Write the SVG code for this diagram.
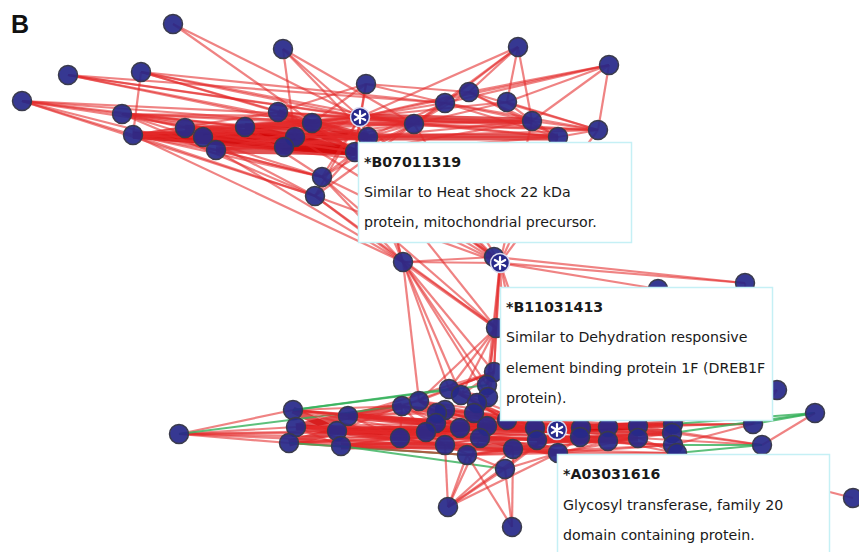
<svg xmlns="http://www.w3.org/2000/svg" width="859" height="552" viewBox="0 0 859 552">
<style>
.ed line{stroke:#e42a2a;stroke-opacity:.58;stroke-width:2.2}
.ed line.g{stroke:#35b05a;stroke-opacity:.8;stroke-width:2}
.ed line.w{stroke-width:3}
.ed line.d{stroke:#d40a0a;stroke-opacity:.7;stroke-width:7}
.n{fill:#27298a;fill-opacity:.93;stroke:#3a3b4c;stroke-width:1.5}
.s{fill:#27298a;stroke:#dcdcf0;stroke-width:1.5}
.a{stroke:#fff;stroke-width:2.2;stroke-linecap:round}
.box{fill:#fff;stroke:#c5f0f5;stroke-width:1.5}
.t{font-family:"DejaVu Sans",Verdana,sans-serif;font-size:14.2px;fill:#1a1a1a}
.h{font-weight:bold}
</style>
<rect width="859" height="552" fill="#fff"/>
<g id="connectors" class="ed">
<line class="d" x1="133" y1="135" x2="355" y2="152"/><line class="d" x1="133" y1="135" x2="368" y2="137"/><line class="d" x1="133" y1="135" x2="284" y2="147"/><line class="d" x1="133" y1="135" x2="295" y2="137"/><line class="d" x1="203" y1="137" x2="295" y2="137"/><line class="d" x1="203" y1="137" x2="355" y2="152"/><line class="d" x1="216" y1="150" x2="355" y2="152"/><line class="d" x1="185" y1="128" x2="295" y2="137"/><line class="d" x1="245" y1="127" x2="355" y2="152"/><line class="d" x1="245" y1="127" x2="368" y2="137"/><line class="d" x1="295" y1="137" x2="355" y2="152"/><line class="d" x1="284" y1="147" x2="355" y2="152"/><line class="d" x1="278" y1="112" x2="355" y2="152"/><line class="d" x1="312" y1="123" x2="368" y2="137"/><line class="d" x1="245" y1="127" x2="312" y2="123"/><line class="d" x1="360" y1="117" x2="532" y2="121"/><line class="d" x1="368" y1="137" x2="558" y2="137"/>
<line class="d" x1="296" y1="427" x2="337" y2="431"/><line class="d" x1="293" y1="410" x2="337" y2="431"/><line class="d" x1="289" y1="443" x2="337" y2="431"/><line class="d" x1="296" y1="427" x2="348" y2="416"/><line class="d" x1="337" y1="431" x2="426" y2="432"/><line class="d" x1="337" y1="431" x2="400" y2="438"/><line class="d" x1="348" y1="416" x2="402" y2="406"/><line class="d" x1="348" y1="416" x2="436" y2="423"/><line class="d" x1="337" y1="431" x2="460" y2="428"/><line class="d" x1="341" y1="446" x2="445" y2="445"/><line class="d" x1="400" y1="438" x2="460" y2="428"/><line class="d" x1="426" y1="432" x2="487" y2="426"/><line class="d" x1="460" y1="428" x2="557" y2="430"/><line class="d" x1="487" y1="426" x2="557" y2="430"/><line class="d" x1="480" y1="438" x2="558" y2="453"/><line class="d" x1="535" y1="428" x2="608" y2="427"/><line class="d" x1="557" y1="430" x2="638" y2="426"/><line class="d" x1="557" y1="430" x2="672" y2="433"/><line class="d" x1="537" y1="440" x2="638" y2="438"/><line class="d" x1="581" y1="428" x2="673" y2="424"/><line class="d" x1="445" y1="445" x2="513" y2="449"/>
<line x1="173" y1="24" x2="360" y2="117"/><line x1="173" y1="24" x2="355" y2="152"/>
<line x1="283" y1="49" x2="360" y2="117"/><line x1="283" y1="49" x2="368" y2="137"/><line x1="283" y1="49" x2="295" y2="137"/><line x1="283" y1="49" x2="414" y2="124"/>
<line x1="68" y1="75" x2="360" y2="117"/><line x1="68" y1="75" x2="414" y2="124"/><line x1="68" y1="75" x2="312" y2="123"/><line x1="68" y1="75" x2="368" y2="137"/><line x1="68" y1="75" x2="445" y2="103"/>
<line x1="141" y1="72" x2="133" y2="135"/><line x1="141" y1="72" x2="360" y2="117"/><line x1="141" y1="72" x2="414" y2="124"/><line x1="141" y1="72" x2="368" y2="137"/><line x1="141" y1="72" x2="445" y2="103"/><line x1="141" y1="72" x2="278" y2="112"/>
<line x1="22" y1="101" x2="122" y2="114"/><line x1="22" y1="101" x2="133" y2="135"/><line x1="22" y1="101" x2="245" y2="127"/><line x1="22" y1="101" x2="360" y2="117"/><line x1="22" y1="101" x2="322" y2="177"/><line x1="22" y1="101" x2="315" y2="196"/><line x1="22" y1="101" x2="312" y2="123"/><line x1="22" y1="101" x2="355" y2="152"/>
<line x1="366" y1="84" x2="360" y2="117"/><line x1="366" y1="84" x2="355" y2="152"/><line x1="366" y1="84" x2="445" y2="103"/><line x1="366" y1="84" x2="469" y2="92"/><line x1="366" y1="84" x2="312" y2="123"/><line x1="366" y1="84" x2="278" y2="112"/>
<line x1="518" y1="47" x2="360" y2="117"/><line x1="518" y1="47" x2="445" y2="103"/><line x1="518" y1="47" x2="469" y2="92"/><line x1="518" y1="47" x2="507" y2="102"/><line x1="518" y1="47" x2="414" y2="124"/><line x1="518" y1="47" x2="532" y2="121"/>
<line x1="609" y1="65" x2="469" y2="92"/><line x1="609" y1="65" x2="445" y2="103"/><line x1="609" y1="65" x2="507" y2="102"/><line x1="609" y1="65" x2="532" y2="121"/><line x1="609" y1="65" x2="598" y2="130"/><line x1="609" y1="65" x2="360" y2="117"/>
<line x1="469" y1="92" x2="360" y2="117"/><line x1="469" y1="92" x2="414" y2="124"/><line x1="469" y1="92" x2="532" y2="121"/><line x1="469" y1="92" x2="558" y2="137"/><line x1="469" y1="92" x2="598" y2="130"/>
<line x1="445" y1="103" x2="360" y2="117"/><line x1="445" y1="103" x2="368" y2="137"/><line x1="445" y1="103" x2="414" y2="124"/><line x1="445" y1="103" x2="598" y2="130"/><line x1="445" y1="103" x2="532" y2="121"/><line x1="445" y1="103" x2="558" y2="137"/>
<line x1="507" y1="102" x2="360" y2="117"/><line x1="507" y1="102" x2="414" y2="124"/><line x1="507" y1="102" x2="532" y2="121"/><line x1="507" y1="102" x2="598" y2="130"/>
<line x1="532" y1="121" x2="360" y2="117"/><line x1="532" y1="121" x2="368" y2="137"/><line x1="532" y1="121" x2="414" y2="124"/><line x1="532" y1="121" x2="598" y2="130"/><line x1="532" y1="121" x2="558" y2="137"/><line x1="532" y1="121" x2="312" y2="123"/><line x1="532" y1="121" x2="355" y2="152"/>
<line x1="598" y1="130" x2="360" y2="117"/><line x1="598" y1="130" x2="414" y2="124"/><line x1="598" y1="130" x2="558" y2="137"/><line x1="598" y1="130" x2="368" y2="137"/><line x1="598" y1="130" x2="312" y2="123"/>
<line x1="558" y1="137" x2="360" y2="117"/><line x1="558" y1="137" x2="414" y2="124"/><line x1="558" y1="137" x2="355" y2="152"/><line x1="558" y1="137" x2="295" y2="137"/>
<line x1="322" y1="177" x2="133" y2="135"/><line x1="322" y1="177" x2="122" y2="114"/><line x1="322" y1="177" x2="360" y2="117"/><line x1="322" y1="177" x2="414" y2="124"/><line x1="322" y1="177" x2="355" y2="152"/><line x1="322" y1="177" x2="216" y2="150"/><line x1="322" y1="177" x2="245" y2="127"/>
<line x1="315" y1="196" x2="122" y2="114"/><line x1="315" y1="196" x2="133" y2="135"/><line x1="315" y1="196" x2="360" y2="117"/><line x1="315" y1="196" x2="368" y2="137"/><line x1="315" y1="196" x2="185" y2="128"/><line x1="315" y1="196" x2="414" y2="124"/>
<line x1="122" y1="114" x2="185" y2="128"/><line x1="122" y1="114" x2="245" y2="127"/><line x1="122" y1="114" x2="295" y2="137"/><line x1="122" y1="114" x2="312" y2="123"/><line x1="122" y1="114" x2="360" y2="117"/><line x1="122" y1="114" x2="368" y2="137"/><line x1="122" y1="114" x2="355" y2="152"/><line x1="122" y1="114" x2="414" y2="124"/><line x1="122" y1="114" x2="284" y2="147"/>
<line class="w" x1="133" y1="135" x2="185" y2="128"/><line class="w" x1="133" y1="135" x2="203" y2="137"/><line class="w" x1="133" y1="135" x2="216" y2="150"/><line x1="133" y1="135" x2="245" y2="127"/><line x1="133" y1="135" x2="278" y2="112"/><line x1="133" y1="135" x2="312" y2="123"/><line x1="133" y1="135" x2="360" y2="117"/><line x1="133" y1="135" x2="414" y2="124"/><line x1="133" y1="135" x2="370" y2="160"/><line x1="133" y1="135" x2="365" y2="145"/>
<line x1="185" y1="128" x2="245" y2="127"/><line x1="185" y1="128" x2="284" y2="147"/><line x1="185" y1="128" x2="360" y2="117"/><line x1="185" y1="128" x2="368" y2="137"/><line x1="185" y1="128" x2="355" y2="152"/><line x1="185" y1="128" x2="312" y2="123"/>
<line x1="203" y1="137" x2="245" y2="127"/><line x1="203" y1="137" x2="284" y2="147"/><line x1="203" y1="137" x2="360" y2="117"/><line x1="203" y1="137" x2="368" y2="137"/><line x1="203" y1="137" x2="312" y2="123"/>
<line x1="216" y1="150" x2="295" y2="137"/><line x1="216" y1="150" x2="284" y2="147"/><line x1="216" y1="150" x2="360" y2="117"/><line x1="216" y1="150" x2="368" y2="137"/>
<line x1="245" y1="127" x2="295" y2="137"/><line x1="245" y1="127" x2="284" y2="147"/><line x1="245" y1="127" x2="360" y2="117"/><line x1="245" y1="127" x2="414" y2="124"/>
<line x1="278" y1="112" x2="312" y2="123"/><line x1="278" y1="112" x2="360" y2="117"/><line x1="278" y1="112" x2="368" y2="137"/><line x1="278" y1="112" x2="414" y2="124"/>
<line x1="295" y1="137" x2="360" y2="117"/><line x1="295" y1="137" x2="368" y2="137"/><line x1="295" y1="137" x2="414" y2="124"/>
<line x1="284" y1="147" x2="360" y2="117"/><line x1="284" y1="147" x2="368" y2="137"/><line x1="284" y1="147" x2="414" y2="124"/>
<line x1="312" y1="123" x2="360" y2="117"/><line x1="312" y1="123" x2="355" y2="152"/><line x1="312" y1="123" x2="414" y2="124"/>
<line x1="360" y1="117" x2="368" y2="137"/><line x1="360" y1="117" x2="355" y2="152"/><line x1="360" y1="117" x2="414" y2="124"/><line x1="368" y1="137" x2="414" y2="124"/><line x1="355" y1="152" x2="414" y2="124"/>
<line x1="403" y1="262" x2="360" y2="117"/><line x1="403" y1="262" x2="368" y2="137"/><line x1="403" y1="262" x2="355" y2="152"/><line x1="403" y1="262" x2="322" y2="177"/><line x1="403" y1="262" x2="315" y2="196"/><line x1="403" y1="262" x2="133" y2="135"/><line x1="403" y1="262" x2="216" y2="150"/>
<line x1="403" y1="262" x2="500" y2="263"/><line x1="403" y1="262" x2="494" y2="257"/><line class="w" x1="403" y1="262" x2="496" y2="328"/><line x1="403" y1="262" x2="494" y2="372"/><line x1="403" y1="262" x2="449" y2="389"/><line x1="403" y1="262" x2="487" y2="385"/><line x1="403" y1="262" x2="419" y2="401"/><line x1="403" y1="262" x2="461" y2="395"/><line x1="403" y1="262" x2="488" y2="397"/>
<line x1="500" y1="263" x2="360" y2="117"/><line x1="500" y1="263" x2="368" y2="137"/><line x1="500" y1="263" x2="355" y2="152"/><line x1="500" y1="263" x2="414" y2="124"/><line x1="500" y1="263" x2="532" y2="121"/><line x1="500" y1="263" x2="598" y2="130"/><line x1="500" y1="263" x2="558" y2="137"/><line x1="500" y1="263" x2="322" y2="177"/><line x1="500" y1="263" x2="315" y2="196"/><line x1="500" y1="263" x2="295" y2="137"/>
<line x1="494" y1="257" x2="355" y2="152"/><line x1="494" y1="257" x2="312" y2="123"/>
<line x1="500" y1="263" x2="745" y2="283"/><line x1="494" y1="257" x2="745" y2="283"/><line x1="500" y1="263" x2="658" y2="289"/><line x1="500" y1="263" x2="496" y2="328"/><line x1="500" y1="263" x2="494" y2="372"/><line x1="500" y1="263" x2="487" y2="385"/><line x1="500" y1="263" x2="488" y2="397"/><line x1="500" y1="263" x2="507" y2="420"/><line x1="500" y1="263" x2="557" y2="430"/><line x1="500" y1="263" x2="535" y2="428"/>
<line x1="745" y1="283" x2="753" y2="424"/>
<line x1="496" y1="328" x2="494" y2="372"/><line x1="496" y1="328" x2="487" y2="385"/><line x1="496" y1="328" x2="449" y2="389"/><line x1="496" y1="328" x2="461" y2="395"/><line x1="496" y1="328" x2="419" y2="401"/><line x1="496" y1="328" x2="322" y2="177"/><line x1="496" y1="328" x2="315" y2="196"/><line x1="496" y1="328" x2="355" y2="152"/>
<line x1="494" y1="372" x2="449" y2="389"/><line x1="494" y1="372" x2="487" y2="385"/><line x1="494" y1="372" x2="488" y2="397"/><line x1="494" y1="372" x2="461" y2="395"/><line x1="494" y1="372" x2="419" y2="401"/><line x1="494" y1="372" x2="402" y2="406"/><line x1="494" y1="372" x2="348" y2="416"/>
<line x1="179" y1="434" x2="293" y2="410"/><line x1="179" y1="434" x2="296" y2="427"/><line x1="179" y1="434" x2="289" y2="443"/><line x1="179" y1="434" x2="337" y2="431"/><line x1="179" y1="434" x2="400" y2="438"/><line x1="179" y1="434" x2="426" y2="432"/><line x1="179" y1="434" x2="445" y2="445"/><line class="g" x1="179" y1="434" x2="402" y2="406"/>
<line x1="293" y1="410" x2="348" y2="416"/><line x1="293" y1="410" x2="402" y2="406"/><line x1="293" y1="410" x2="400" y2="438"/><line x1="293" y1="410" x2="426" y2="432"/><line x1="293" y1="410" x2="436" y2="423"/><line x1="293" y1="410" x2="460" y2="428"/><line x1="293" y1="410" x2="487" y2="426"/><line x1="293" y1="410" x2="557" y2="430"/><line class="g" x1="293" y1="410" x2="449" y2="389"/><line class="g" x1="293" y1="410" x2="487" y2="385"/>
<line x1="296" y1="427" x2="341" y2="446"/><line x1="296" y1="427" x2="400" y2="438"/><line x1="296" y1="427" x2="426" y2="432"/><line x1="296" y1="427" x2="436" y2="423"/><line x1="296" y1="427" x2="445" y2="445"/><line x1="296" y1="427" x2="460" y2="428"/><line x1="296" y1="427" x2="480" y2="438"/><line x1="296" y1="427" x2="535" y2="428"/><line x1="296" y1="427" x2="581" y2="428"/>
<line x1="289" y1="443" x2="341" y2="446"/><line x1="289" y1="443" x2="400" y2="438"/><line x1="289" y1="443" x2="426" y2="432"/><line x1="289" y1="443" x2="445" y2="445"/><line x1="289" y1="443" x2="467" y2="455"/><line x1="289" y1="443" x2="480" y2="438"/><line x1="289" y1="443" x2="557" y2="430"/><line class="g" x1="289" y1="443" x2="467" y2="455"/>
<line x1="348" y1="416" x2="419" y2="401"/><line x1="348" y1="416" x2="400" y2="438"/><line x1="348" y1="416" x2="437" y2="413"/><line x1="348" y1="416" x2="445" y2="410"/><line x1="348" y1="416" x2="460" y2="428"/><line x1="348" y1="416" x2="487" y2="426"/><line x1="348" y1="416" x2="535" y2="428"/><line x1="348" y1="416" x2="557" y2="430"/><line x1="348" y1="416" x2="608" y2="427"/>
<line x1="337" y1="431" x2="402" y2="406"/><line x1="337" y1="431" x2="436" y2="423"/><line x1="337" y1="431" x2="445" y2="445"/><line x1="337" y1="431" x2="480" y2="438"/><line x1="337" y1="431" x2="537" y2="440"/><line x1="337" y1="431" x2="557" y2="430"/><line x1="337" y1="431" x2="608" y2="441"/>
<line x1="341" y1="446" x2="400" y2="438"/><line x1="341" y1="446" x2="426" y2="432"/><line x1="341" y1="446" x2="467" y2="455"/><line x1="341" y1="446" x2="480" y2="438"/><line x1="341" y1="446" x2="513" y2="449"/><line x1="341" y1="446" x2="558" y2="453"/><line x1="341" y1="446" x2="580" y2="437"/><line class="g" x1="341" y1="446" x2="505" y2="469"/>
<line x1="402" y1="406" x2="400" y2="438"/><line x1="402" y1="406" x2="426" y2="432"/><line x1="402" y1="406" x2="436" y2="423"/><line x1="402" y1="406" x2="460" y2="428"/><line x1="402" y1="406" x2="487" y2="426"/><line x1="402" y1="406" x2="535" y2="428"/><line x1="402" y1="406" x2="581" y2="428"/><line x1="402" y1="406" x2="638" y2="426"/>
<line x1="419" y1="401" x2="437" y2="413"/><line x1="419" y1="401" x2="445" y2="410"/><line x1="419" y1="401" x2="460" y2="428"/><line x1="419" y1="401" x2="487" y2="426"/><line x1="419" y1="401" x2="557" y2="430"/><line x1="419" y1="401" x2="608" y2="427"/>
<line x1="400" y1="438" x2="426" y2="432"/><line x1="400" y1="438" x2="436" y2="423"/><line x1="400" y1="438" x2="445" y2="445"/><line x1="400" y1="438" x2="480" y2="438"/><line x1="400" y1="438" x2="557" y2="430"/><line x1="400" y1="438" x2="608" y2="441"/>
<line x1="426" y1="432" x2="445" y2="445"/><line x1="426" y1="432" x2="460" y2="428"/><line x1="426" y1="432" x2="480" y2="438"/><line x1="426" y1="432" x2="537" y2="440"/><line x1="426" y1="432" x2="580" y2="437"/><line x1="426" y1="432" x2="638" y2="438"/>
<line x1="437" y1="413" x2="460" y2="428"/><line x1="437" y1="413" x2="487" y2="426"/><line x1="437" y1="413" x2="535" y2="428"/><line x1="437" y1="413" x2="581" y2="428"/><line x1="437" y1="413" x2="608" y2="427"/>
<line x1="436" y1="423" x2="460" y2="428"/><line x1="436" y1="423" x2="487" y2="426"/><line x1="436" y1="423" x2="557" y2="430"/><line x1="436" y1="423" x2="638" y2="426"/><line x1="436" y1="423" x2="673" y2="424"/>
<line x1="445" y1="410" x2="487" y2="426"/><line x1="445" y1="410" x2="557" y2="430"/><line x1="445" y1="410" x2="608" y2="427"/><line x1="445" y1="410" x2="672" y2="433"/>
<line x1="449" y1="389" x2="477" y2="403"/><line x1="449" y1="389" x2="488" y2="397"/><line x1="449" y1="389" x2="507" y2="420"/><line x1="449" y1="389" x2="557" y2="430"/>
<line x1="461" y1="395" x2="488" y2="397"/><line x1="461" y1="395" x2="507" y2="420"/><line x1="461" y1="395" x2="535" y2="428"/>
<line x1="445" y1="445" x2="480" y2="438"/><line x1="445" y1="445" x2="558" y2="453"/><line x1="445" y1="445" x2="608" y2="441"/>
<line x1="467" y1="455" x2="513" y2="449"/><line x1="467" y1="455" x2="558" y2="453"/><line x1="467" y1="455" x2="580" y2="437"/><line x1="467" y1="455" x2="638" y2="438"/><line x1="467" y1="455" x2="673" y2="445"/>
<line x1="460" y1="428" x2="487" y2="426"/><line x1="460" y1="428" x2="535" y2="428"/><line x1="460" y1="428" x2="581" y2="428"/><line x1="460" y1="428" x2="638" y2="426"/><line x1="460" y1="428" x2="672" y2="433"/>
<line x1="477" y1="403" x2="507" y2="420"/><line x1="477" y1="403" x2="535" y2="428"/><line x1="474" y1="413" x2="487" y2="426"/><line x1="474" y1="413" x2="557" y2="430"/>
<line x1="487" y1="426" x2="535" y2="428"/><line x1="487" y1="426" x2="608" y2="427"/><line x1="487" y1="426" x2="673" y2="424"/>
<line x1="480" y1="438" x2="537" y2="440"/><line x1="480" y1="438" x2="557" y2="430"/><line x1="480" y1="438" x2="580" y2="437"/><line x1="480" y1="438" x2="608" y2="441"/><line x1="480" y1="438" x2="673" y2="445"/>
<line x1="513" y1="449" x2="558" y2="453"/><line x1="513" y1="449" x2="580" y2="437"/><line x1="513" y1="449" x2="638" y2="438"/><line x1="513" y1="449" x2="677" y2="453"/>
<line x1="535" y1="428" x2="557" y2="430"/><line x1="535" y1="428" x2="581" y2="428"/><line x1="535" y1="428" x2="638" y2="426"/><line x1="535" y1="428" x2="673" y2="424"/>
<line x1="537" y1="440" x2="558" y2="453"/><line x1="537" y1="440" x2="580" y2="437"/><line x1="537" y1="440" x2="608" y2="441"/><line x1="537" y1="440" x2="672" y2="433"/><line x1="537" y1="440" x2="673" y2="445"/>
<line x1="557" y1="430" x2="581" y2="428"/><line x1="557" y1="430" x2="580" y2="437"/><line x1="557" y1="430" x2="608" y2="427"/><line x1="557" y1="430" x2="608" y2="441"/><line x1="557" y1="430" x2="638" y2="438"/><line x1="557" y1="430" x2="673" y2="424"/><line x1="557" y1="430" x2="677" y2="453"/>
<line x1="558" y1="453" x2="580" y2="437"/><line x1="558" y1="453" x2="608" y2="441"/><line x1="558" y1="453" x2="638" y2="438"/><line x1="558" y1="453" x2="673" y2="445"/><line x1="558" y1="453" x2="677" y2="453"/>
<line x1="581" y1="428" x2="608" y2="427"/><line x1="581" y1="428" x2="638" y2="426"/><line x1="580" y1="437" x2="608" y2="441"/><line x1="580" y1="437" x2="638" y2="438"/><line x1="580" y1="437" x2="672" y2="433"/>
<line x1="608" y1="427" x2="638" y2="426"/><line x1="608" y1="427" x2="673" y2="424"/><line x1="608" y1="427" x2="753" y2="424"/><line x1="608" y1="441" x2="638" y2="438"/><line x1="608" y1="441" x2="673" y2="445"/>
<line x1="638" y1="426" x2="673" y2="424"/><line x1="638" y1="426" x2="753" y2="424"/><line x1="638" y1="426" x2="762" y2="445"/><line x1="638" y1="438" x2="672" y2="433"/><line x1="638" y1="438" x2="677" y2="453"/><line x1="638" y1="438" x2="762" y2="445"/>
<line x1="673" y1="424" x2="753" y2="424"/><line class="g" x1="673" y1="424" x2="815" y2="413"/><line x1="672" y1="433" x2="762" y2="445"/><line class="g" x1="672" y1="433" x2="815" y2="413"/><line class="g" x1="673" y1="445" x2="762" y2="445"/><line x1="673" y1="445" x2="753" y2="424"/><line class="g" x1="677" y1="453" x2="762" y2="445"/>
<line class="g" x1="753" y1="424" x2="815" y2="413"/><line x1="753" y1="424" x2="777" y2="390"/><line x1="762" y1="445" x2="815" y2="413"/><line x1="777" y1="390" x2="673" y2="424"/>
<line x1="853" y1="498" x2="677" y2="453"/>
<line x1="448" y1="507" x2="445" y2="445"/><line x1="448" y1="507" x2="467" y2="455"/><line x1="448" y1="507" x2="480" y2="438"/><line x1="448" y1="507" x2="513" y2="449"/><line x1="448" y1="507" x2="557" y2="430"/><line x1="448" y1="507" x2="558" y2="453"/><line x1="448" y1="507" x2="505" y2="469"/>
<line x1="512" y1="527" x2="513" y2="449"/><line x1="512" y1="527" x2="505" y2="469"/><line x1="512" y1="527" x2="467" y2="455"/>
<line x1="505" y1="469" x2="557" y2="430"/><line x1="505" y1="469" x2="558" y2="453"/><line x1="505" y1="469" x2="445" y2="445"/>
</g>
<g id="nodes">
<g id="u1"><circle class="n" cx="173" cy="24" r="9.5"/></g>
<g id="u2"><circle class="n" cx="283" cy="49" r="9.5"/></g>
<g id="u3"><circle class="n" cx="518" cy="47" r="9.5"/></g>
<g id="u4"><circle class="n" cx="609" cy="65" r="9.5"/></g>
<g id="u5"><circle class="n" cx="68" cy="75" r="9.5"/></g>
<g id="u6"><circle class="n" cx="141" cy="72" r="9.5"/></g>
<g id="u7"><circle class="n" cx="22" cy="101" r="9.5"/></g>
<g id="u8"><circle class="n" cx="366" cy="84" r="9.5"/></g>
<g id="u9"><circle class="n" cx="469" cy="92" r="9.5"/></g>
<g id="u10"><circle class="n" cx="445" cy="103" r="9.5"/></g>
<g id="u11"><circle class="n" cx="507" cy="102" r="9.5"/></g>
<g id="u12"><circle class="n" cx="122" cy="114" r="9.5"/></g>
<g id="u13"><circle class="n" cx="133" cy="135" r="9.5"/></g>
<g id="u14"><circle class="n" cx="185" cy="128" r="9.5"/></g>
<g id="u15"><circle class="n" cx="203" cy="137" r="9.5"/></g>
<g id="u16"><circle class="n" cx="216" cy="150" r="9.5"/></g>
<g id="u17"><circle class="n" cx="245" cy="127" r="9.5"/></g>
<g id="u18"><circle class="n" cx="278" cy="112" r="9.5"/></g>
<g id="u19"><circle class="n" cx="295" cy="137" r="9.5"/></g>
<g id="u20"><circle class="n" cx="284" cy="147" r="9.5"/></g>
<g id="u21"><circle class="n" cx="312" cy="123" r="9.5"/></g>
<g id="u23"><circle class="n" cx="368" cy="137" r="9.5"/></g>
<g id="u24"><circle class="n" cx="355" cy="152" r="9.5"/></g>
<g id="u22"><circle class="s" cx="360" cy="117" r="9.5"/><path class="a" d="M360 111v12M354.8 114l10.4 6M354.8 120l10.4-6"/></g>
<g id="u25"><circle class="n" cx="414" cy="124" r="9.5"/></g>
<g id="u26"><circle class="n" cx="532" cy="121" r="9.5"/></g>
<g id="u27"><circle class="n" cx="598" cy="130" r="9.5"/></g>
<g id="u28"><circle class="n" cx="558" cy="137" r="9.5"/></g>
<g id="u29"><circle class="n" cx="322" cy="177" r="9.5"/></g>
<g id="u30"><circle class="n" cx="315" cy="196" r="9.5"/></g>
<g id="m1"><circle class="n" cx="403" cy="262" r="9.5"/></g>
<g id="m2"><circle class="n" cx="494" cy="257" r="9.5"/></g>
<g id="m3"><circle class="s" cx="500" cy="263" r="9.5"/><path class="a" d="M500 257v12M494.8 260l10.4 6M494.8 266l10.4-6"/></g>
<g id="m4"><circle class="n" cx="745" cy="283" r="9.5"/></g>
<g id="m5"><circle class="n" cx="658" cy="289" r="9.5"/></g>
<g id="m6"><circle class="n" cx="496" cy="328" r="9.5"/></g>
<g id="m7"><circle class="n" cx="494" cy="372" r="9.5"/></g>
<g id="l1"><circle class="n" cx="179" cy="434" r="9.5"/></g>
<g id="l2"><circle class="n" cx="293" cy="410" r="9.5"/></g>
<g id="l3"><circle class="n" cx="296" cy="427" r="9.5"/></g>
<g id="l4"><circle class="n" cx="289" cy="443" r="9.5"/></g>
<g id="l5"><circle class="n" cx="348" cy="416" r="9.5"/></g>
<g id="l6"><circle class="n" cx="337" cy="431" r="9.5"/></g>
<g id="l7"><circle class="n" cx="341" cy="446" r="9.5"/></g>
<g id="l8"><circle class="n" cx="402" cy="406" r="9.5"/></g>
<g id="l9"><circle class="n" cx="419" cy="401" r="9.5"/></g>
<g id="l10"><circle class="n" cx="400" cy="438" r="9.5"/></g>
<g id="l15"><circle class="n" cx="449" cy="389" r="9.5"/></g>
<g id="l16"><circle class="n" cx="461" cy="395" r="9.5"/></g>
<g id="l22"><circle class="n" cx="487" cy="385" r="9.5"/></g>
<g id="l23"><circle class="n" cx="488" cy="397" r="9.5"/></g>
<g id="l20"><circle class="n" cx="477" cy="403" r="9.5"/></g>
<g id="l14"><circle class="n" cx="445" cy="410" r="9.5"/></g>
<g id="l12"><circle class="n" cx="437" cy="413" r="9.5"/></g>
<g id="l21"><circle class="n" cx="474" cy="413" r="9.5"/></g>
<g id="l13"><circle class="n" cx="436" cy="423" r="9.5"/></g>
<g id="l11"><circle class="n" cx="426" cy="432" r="9.5"/></g>
<g id="l19"><circle class="n" cx="460" cy="428" r="9.5"/></g>
<g id="l24"><circle class="n" cx="487" cy="426" r="9.5"/></g>
<g id="l25"><circle class="n" cx="480" cy="438" r="9.5"/></g>
<g id="l17"><circle class="n" cx="445" cy="445" r="9.5"/></g>
<g id="l18"><circle class="n" cx="467" cy="455" r="9.5"/></g>
<g id="l26"><circle class="n" cx="507" cy="420" r="9.5"/></g>
<g id="l27"><circle class="n" cx="513" cy="449" r="9.5"/></g>
<g id="l28"><circle class="n" cx="505" cy="469" r="9.5"/></g>
<g id="l29"><circle class="n" cx="535" cy="428" r="9.5"/></g>
<g id="l30"><circle class="n" cx="537" cy="440" r="9.5"/></g>
<g id="l32"><circle class="n" cx="558" cy="453" r="9.5"/></g>
<g id="l31"><circle class="s" cx="557" cy="430" r="9.5"/><path class="a" d="M557 424v12M551.8 427l10.4 6M551.8 433l10.4-6"/></g>
<g id="l33"><circle class="n" cx="581" cy="428" r="9.5"/></g>
<g id="l34"><circle class="n" cx="580" cy="437" r="9.5"/></g>
<g id="l35"><circle class="n" cx="608" cy="427" r="9.5"/></g>
<g id="l36"><circle class="n" cx="608" cy="441" r="9.5"/></g>
<g id="l37"><circle class="n" cx="638" cy="426" r="9.5"/></g>
<g id="l38"><circle class="n" cx="638" cy="438" r="9.5"/></g>
<g id="l39"><circle class="n" cx="673" cy="424" r="9.5"/></g>
<g id="l40"><circle class="n" cx="672" cy="433" r="9.5"/></g>
<g id="l41"><circle class="n" cx="673" cy="445" r="9.5"/></g>
<g id="l42"><circle class="n" cx="677" cy="453" r="9.5"/></g>
<g id="l43"><circle class="n" cx="753" cy="424" r="9.5"/></g>
<g id="l44"><circle class="n" cx="762" cy="445" r="9.5"/></g>
<g id="l45"><circle class="n" cx="777" cy="390" r="9.5"/></g>
<g id="l46"><circle class="n" cx="815" cy="413" r="9.5"/></g>
<g id="l47"><circle class="n" cx="853" cy="498" r="9.5"/></g>
<g id="l48"><circle class="n" cx="448" cy="507" r="9.5"/></g>
<g id="l49"><circle class="n" cx="512" cy="527" r="9.5"/></g>
</g>
<g id="tip1">
<rect class="box" x="358.5" y="142.5" width="273" height="100"/>
<text class="t h" x="364" y="167">*B07011319</text>
<text class="t" x="364" y="197">Similar to Heat shock 22 kDa</text>
<text class="t" x="364" y="227">protein, mitochondrial precursor.</text>
</g>
<g id="tip2">
<rect class="box" x="500.5" y="287.5" width="272" height="133"/>
<text class="t h" x="506" y="312">*B11031413</text>
<text class="t" x="506" y="342">Similar to Dehydration responsive</text>
<text class="t" x="506" y="373">element binding protein 1F (DREB1F</text>
<text class="t" x="506" y="403">protein).</text>
</g>
<g id="tip3">
<rect class="box" x="557.5" y="454.5" width="272" height="110"/>
<text class="t h" x="563" y="479">*A03031616</text>
<text class="t" x="563" y="510">Glycosyl transferase, family 20</text>
<text class="t" x="563" y="540">domain containing protein.</text>
</g>
<text x="11" y="33" font-family="'Liberation Sans',Arial,sans-serif" font-size="25" font-weight="bold" fill="#111">B</text>
</svg>
